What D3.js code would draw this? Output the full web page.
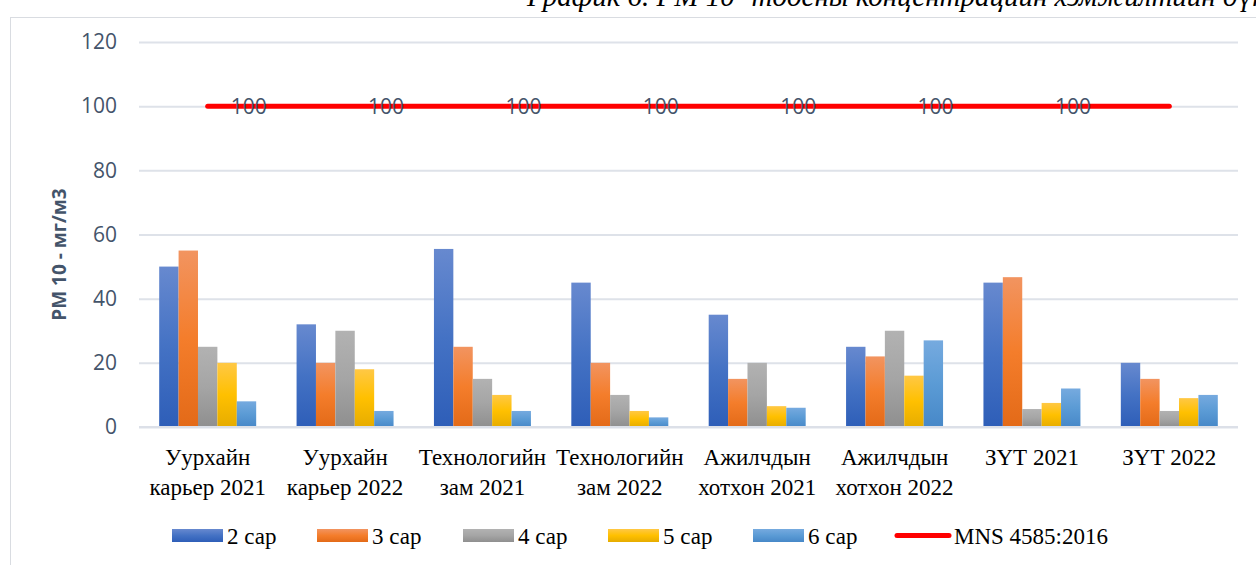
<!DOCTYPE html>
<html>
<head>
<meta charset="utf-8">
<script src="https://cdn.jsdelivr.net/npm/d3@7"></script>
<style>
  html, body { margin: 0; padding: 0; background: #fff; }
  svg { display: block; }
</style>
</head>
<body>
<svg id="chart" width="1256" height="565"></svg>
<script>
const categories = [
  ["Уурхайн", "карьер 2021"],
  ["Уурхайн", "карьер 2022"],
  ["Технологийн", "зам 2021"],
  ["Технологийн", "зам 2022"],
  ["Ажилчдын", "хотхон 2021"],
  ["Ажилчдын", "хотхон 2022"],
  ["ЗҮТ 2021"],
  ["ЗҮТ 2022"]
];
const seriesNames = ["2 сар", "3 сар", "4 сар", "5 сар", "6 сар"];
const s2 = [50, 32, 55.5, 45, 35, 25, 45, 20];
const s3 = [55, 20, 25, 20, 15, 22, 46.7, 15];
const s4 = [25, 30, 15, 10, 20, 30, 5.6, 5];
const s5 = [20, 18, 10, 5, 6.5, 16, 7.5, 9];
const s6 = [8, 5, 5, 3, 6, 27, 12, 10];
const mnsName = "MNS 4585:2016";
const mnsValues = [100, 100, 100, 100, 100, 100, 100, 100];
const mnsLabelShown = [true, true, true, true, true, true, true, false];
const yTicks = [0, 20, 40, 60, 80, 100, 120];
const yTitle = "PM 10 - мг/м3";
const chartTitle = "График 6. PM 10 -тоосны концентрацийн хэмжилтийн дүн";

const seriesValues = [s2, s3, s4, s5, s6];
// gradient stops: top, middle, bottom
const seriesColors = [
  ["#6789CF", "#4472C4", "#2E5EB8"],
  ["#F29460", "#F47D2B", "#E36A18"],
  ["#B2B2B2", "#A5A5A5", "#8F8F8F"],
  ["#FFC845", "#FFC000", "#E6AC00"],
  ["#76AADF", "#5B9BD5", "#4788C8"]
];

const svg = d3.select("#chart");
const plot = { left: 139, right: 1238, top: 42, bottom: 427 };

// frame
svg.append("rect").attr("x", 10.5).attr("y", 17.5).attr("width", 1300).attr("height", 600)
  .attr("fill", "none").attr("stroke", "#D9DCE1").attr("stroke-width", 1);

// title (partially cut at top, as in the reference)
svg.append("text").attr("x", 527).attr("y", 6)
  .attr("font-family", "Liberation Serif, serif").attr("font-style", "italic")
  .attr("font-size", 29).attr("fill", "#000").text(chartTitle);

const defs = svg.append("defs");
seriesColors.forEach((c, i) => {
  const g = defs.append("linearGradient").attr("id", "grad" + i)
    .attr("x1", 0).attr("y1", 0).attr("x2", 0).attr("y2", 1);
  g.append("stop").attr("offset", "0%").attr("stop-color", c[0]);
  g.append("stop").attr("offset", "50%").attr("stop-color", c[1]);
  g.append("stop").attr("offset", "100%").attr("stop-color", c[2]);
});

const idx = d3.range(categories.length);
const x0 = d3.scaleBand().domain(idx).range([plot.left, plot.right])
  .paddingInner(0.294).paddingOuter(0.147);
const x1 = d3.scaleBand().domain(d3.range(seriesNames.length)).range([0, x0.bandwidth()]).padding(0);
const y = d3.scaleLinear().domain([0, 120]).range([plot.bottom, plot.top]);

// gridlines + tick labels
const yAxis = d3.axisLeft(y).tickValues(yTicks).tickSize(-(plot.right - plot.left)).tickPadding(22);
const gy = svg.append("g").attr("transform", `translate(${plot.left},0)`).call(yAxis);
gy.select(".domain").remove();
gy.selectAll(".tick line").attr("stroke", "#DEE2E9").attr("stroke-width", 2);
gy.selectAll(".tick text").attr("font-family", "Open Sans, sans-serif").attr("font-size", 21)
  .attr("fill", "#44546A").attr("x", 117 - plot.left);

// y title
svg.append("text").attr("transform", `translate(66,${(plot.top + plot.bottom) / 2 + 20}) rotate(-90)`)
  .attr("text-anchor", "middle").attr("font-family", "Open Sans, sans-serif")
  .attr("font-weight", "bold").attr("font-size", 19).attr("fill", "#44546A").text(yTitle);

// bars
const groups = svg.append("g").selectAll("g").data(idx).join("g")
  .attr("transform", i => `translate(${x0(i)},0)`);
groups.selectAll("rect").data(i => seriesValues.map((s, k) => ({ k, v: s[i] }))).join("rect")
  .attr("x", d => x1(d.k)).attr("width", x1.bandwidth())
  .attr("y", d => y(d.v)).attr("height", d => y(0) - y(d.v))
  .attr("fill", d => `url(#grad${d.k})`);

// axis baseline
svg.append("line").attr("x1", plot.left).attr("x2", plot.right)
  .attr("y1", y(0)).attr("y2", y(0)).attr("stroke", "#DCE0E8").attr("stroke-width", 2);

// MNS line
const cx = i => x0(i) + x0.bandwidth() / 2;
const line = d3.line().x((d, i) => cx(i)).y(d => y(d));
svg.append("path").datum(mnsValues).attr("d", line).attr("fill", "none")
  .attr("stroke", "#FF0000").attr("stroke-width", 5).attr("stroke-linecap", "round");
svg.append("g").selectAll("text").data(mnsValues.map((v, i) => ({ v, i })).filter(d => mnsLabelShown[d.i]))
  .join("text").attr("x", d => cx(d.i) + 41).attr("y", d => y(d.v))
  .attr("dy", "0.35em").attr("text-anchor", "middle")
  .attr("font-family", "Open Sans, sans-serif").attr("font-size", 21).attr("fill", "#44546A")
  .text(d => d.v);

// category labels
const catG = svg.append("g");
idx.forEach(i => {
  const t = catG.append("text").attr("text-anchor", "middle")
    .attr("font-family", "Liberation Serif, serif").attr("font-size", 23).attr("fill", "#000");
  categories[i].forEach((ln, j) => {
    t.append("tspan").attr("x", cx(i)).attr("y", 465 + j * 30).text(ln);
  });
});

// legend
const legend = svg.append("g");
const legX = [172, 317, 463, 608, 753];
seriesNames.forEach((n, k) => {
  legend.append("rect").attr("x", legX[k]).attr("y", 529).attr("width", 51).attr("height", 13)
    .attr("fill", `url(#grad${k})`);
  legend.append("text").attr("x", legX[k] + 55).attr("y", 544)
    .attr("font-family", "Liberation Serif, serif").attr("font-size", 23).attr("fill", "#000").text(n);
});
legend.append("line").attr("x1", 897).attr("x2", 949).attr("y1", 535.5).attr("y2", 535.5)
  .attr("stroke", "#FF0000").attr("stroke-width", 5).attr("stroke-linecap", "round");
legend.append("text").attr("x", 954).attr("y", 544)
  .attr("font-family", "Liberation Serif, serif").attr("font-size", 23).attr("fill", "#000").text(mnsName);
</script>
</body>
</html>
